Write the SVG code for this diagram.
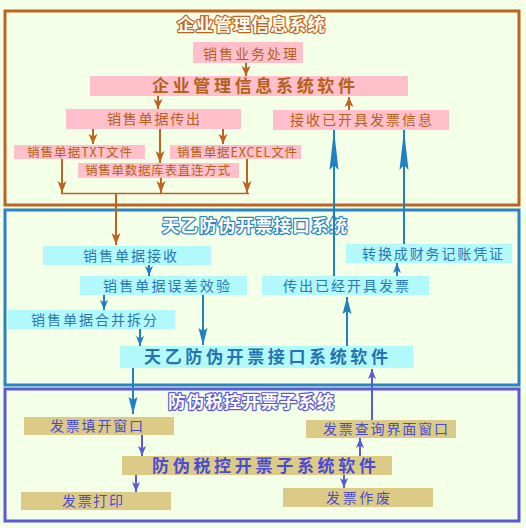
<svg xmlns="http://www.w3.org/2000/svg" width="526" height="528" viewBox="0 0 526 528">
<style>
text{font-family:"Noto Sans CJK SC","Noto Sans",sans-serif;text-anchor:middle;}
.t1{font-size:14px;fill:#b5601c;}
.t1s{font-size:12.5px;fill:#b5601c;}
.t1b{font-size:17px;font-weight:bold;fill:#b5601c;}
.t2{font-size:14px;fill:#2b78b6;}
.t2b{font-size:17px;font-weight:bold;fill:#2374b0;}
.t3{font-size:14px;fill:#4b4bd0;}
.t3b{font-size:17px;font-weight:bold;fill:#4b4bd0;}
.title{font-size:17.5px;font-weight:bold;fill:#fffdf4;stroke-width:2.4px;paint-order:stroke;stroke-linejoin:round;}
.n1{fill:#ffc0cb;}
.n2{fill:#b2f9fb;}
.n3{fill:#dccb86;}
.ab{stroke:#bf6420;stroke-width:2;fill:none;}
.abl{stroke:#2080c0;stroke-width:2;fill:none;}
.ap{stroke:#5a5ad6;stroke-width:2;fill:none;}
</style>
<defs>
<marker id="hb" viewBox="0 -5 10 10" refX="10" refY="0" markerWidth="10" markerHeight="10" markerUnits="userSpaceOnUse" orient="auto"><path d="M0,-4.5 L10,0 L0,4.5 L2.5,0 z" fill="#bf6420"/></marker>
<marker id="hbl" viewBox="0 -5 12 10" refX="12" refY="0" markerWidth="12" markerHeight="10" markerUnits="userSpaceOnUse" orient="auto"><path d="M0,-4.5 L12,0 L0,4.5 L3,0 z" fill="#bf6420"/></marker>
<marker id="hs" viewBox="0 -5 10 10" refX="10" refY="0" markerWidth="10" markerHeight="10" markerUnits="userSpaceOnUse" orient="auto"><path d="M0,-4 L10,0 L0,4 L2.5,0 z" fill="#2080c0"/></marker>
<marker id="hm" viewBox="0 -5 17 10" refX="17" refY="0" markerWidth="17" markerHeight="10" markerUnits="userSpaceOnUse" orient="auto"><path d="M0,-4.5 L17,0 L0,4.5 L3,0 z" fill="#2080c0"/></marker>
<marker id="hl" viewBox="0 -5 40 10" refX="40" refY="0" markerWidth="40" markerHeight="10" markerUnits="userSpaceOnUse" orient="auto"><path d="M0,-4.5 L40,0 L0,4.5 L5,0 z" fill="#2080c0"/></marker>
<marker id="hp" viewBox="0 -5 10 10" refX="10" refY="0" markerWidth="10" markerHeight="10" markerUnits="userSpaceOnUse" orient="auto"><path d="M0,-4 L10,0 L0,4 L2.5,0 z" fill="#5a5ad6"/></marker>
</defs>
<rect x="0" y="0" width="526" height="528" fill="#f3ffe6"/>

<g id="frames">
<rect x="5" y="11" width="514" height="194" fill="none" stroke="#bf6420" stroke-width="3"/>
<rect x="5" y="210" width="514" height="175" fill="none" stroke="#2a84c4" stroke-width="3"/>
<rect x="5" y="389" width="514" height="132" fill="none" stroke="#5a5ad6" stroke-width="3"/>
<text class="title" x="251" y="30.5" textLength="148" lengthAdjust="spacing" stroke="#bf6420">企业管理信息系统</text>
<text class="title" x="254.5" y="231.5" textLength="185" lengthAdjust="spacing" stroke="#2a84c4">天乙防伪开票接口系统</text>
<text class="title" x="251" y="408" textLength="166" lengthAdjust="spacing" stroke="#5a5ad6">防伪税控开票子系统</text>
</g>

<g id="connectors">
<line class="ab" x1="246" y1="63" x2="246" y2="76" marker-end="url(#hb)"/>
<line class="ab" x1="158" y1="96" x2="158" y2="109" marker-end="url(#hb)"/>
<line class="ab" x1="349" y1="110" x2="349" y2="97" marker-end="url(#hb)"/>
<line class="ab" x1="93" y1="129" x2="93" y2="144" marker-end="url(#hb)"/>
<line class="ab" x1="160" y1="129" x2="160" y2="163" marker-end="url(#hbl)"/>
<line class="ab" x1="223" y1="129" x2="223" y2="144" marker-end="url(#hb)"/>
<line class="ab" x1="62" y1="159" x2="62" y2="193" marker-end="url(#hbl)"/>
<line class="ab" x1="161" y1="178" x2="161" y2="193" marker-end="url(#hbl)"/>
<line class="ab" x1="247" y1="159" x2="247" y2="193" marker-end="url(#hbl)"/>
<line x1="61" y1="193.5" x2="249" y2="193.5" stroke="#bf6420" stroke-width="1.5"/>
<line class="ab" x1="116" y1="193" x2="116" y2="245" marker-end="url(#hbl)"/>

<line class="abl" x1="149" y1="265" x2="149" y2="276" marker-end="url(#hs)"/>
<line class="abl" x1="104" y1="295" x2="104" y2="310" marker-end="url(#hs)"/>
<line class="abl" x1="140" y1="329" x2="140" y2="346" marker-end="url(#hs)"/>
<line class="abl" x1="203" y1="295" x2="203" y2="345" marker-end="url(#hm)"/>
<line class="abl" x1="347" y1="346" x2="347" y2="297" marker-end="url(#hm)"/>
<line class="abl" x1="397" y1="276" x2="397" y2="263" marker-end="url(#hs)"/>
<line class="abl" x1="334" y1="276" x2="334" y2="130" marker-end="url(#hl)"/>
<line class="abl" x1="404" y1="244" x2="404" y2="130" marker-end="url(#hl)"/>
<line class="abl" x1="133" y1="368" x2="133" y2="414" marker-end="url(#hm)"/>

<line class="ap" x1="142" y1="435" x2="142" y2="456" marker-end="url(#hp)"/>
<line class="ap" x1="136" y1="475" x2="136" y2="492" marker-end="url(#hp)"/>
<line class="ap" x1="344" y1="475" x2="344" y2="488" marker-end="url(#hp)"/>
<line class="ap" x1="360" y1="456" x2="360" y2="438" marker-end="url(#hp)"/>
<line class="ap" x1="372" y1="420" x2="372" y2="369" marker-end="url(#hp)"/>
</g>

<g id="n-xsywcl"><rect class="n1" x="193" y="42" width="110" height="21"/><text class="t1" x="250" y="58.5" textLength="94" lengthAdjust="spacing">销售业务处理</text></g>
<g id="n-qyglrj"><rect class="n1" x="90" y="76" width="318" height="20"/><text class="t1b" x="253.5" y="92" textLength="203" lengthAdjust="spacing">企业管理信息系统软件</text></g>
<g id="n-xsdjcc"><rect class="n1" x="66" y="109" width="175" height="20"/><text class="t1" x="153.5" y="124" textLength="93" lengthAdjust="spacing">销售单据传出</text></g>
<g id="n-jsykjfpxx"><rect class="n1" x="273" y="110" width="176" height="20"/><text class="t1" x="361" y="125" textLength="142" lengthAdjust="spacing">接收已开具发票信息</text></g>
<g id="n-txt"><rect class="n1" x="14" y="145" width="131" height="14"/><text class="t1s" x="79.5" y="156.5" textLength="105" lengthAdjust="spacing">销售单据TXT文件</text></g>
<g id="n-excel"><rect class="n1" x="170" y="145" width="131" height="14"/><text class="t1s" x="237" y="156.5" textLength="120" lengthAdjust="spacing">销售单据EXCEL文件</text></g>
<g id="n-sjk"><rect class="n1" x="78" y="163" width="161" height="15"/><text class="t1s" x="157.5" y="175" textLength="145" lengthAdjust="spacing">销售单数据库表直连方式</text></g>

<g id="n-xsdjjs"><rect class="n2" x="43" y="246" width="168" height="19"/><text class="t2" x="130" y="260.5" textLength="94" lengthAdjust="spacing">销售单据接收</text></g>
<g id="n-wcxy"><rect class="n2" x="80" y="276" width="167" height="19"/><text class="t2" x="166.5" y="290.5" textLength="127" lengthAdjust="spacing">销售单据误差效验</text></g>
<g id="n-hbcf"><rect class="n2" x="8" y="310" width="167" height="19"/><text class="t2" x="94" y="324.5" textLength="126" lengthAdjust="spacing">销售单据合并拆分</text></g>
<g id="n-tyrj"><rect class="n2" x="120" y="346" width="293" height="22"/><text class="t2b" x="266" y="363" textLength="244" lengthAdjust="spacing">天乙防伪开票接口系统软件</text></g>
<g id="n-ccykj"><rect class="n2" x="262" y="276" width="167" height="19"/><text class="t2" x="346" y="290.5" textLength="126" lengthAdjust="spacing">传出已经开具发票</text></g>
<g id="n-zhcw"><rect class="n2" x="346" y="244" width="166" height="19"/><text class="t2" x="432.5" y="258.5" textLength="141" lengthAdjust="spacing">转换成财务记账凭证</text></g>

<g id="n-fptk"><rect class="n3" x="24" y="417" width="150" height="18"/><text class="t3" x="96.5" y="431" textLength="93" lengthAdjust="spacing">发票填开窗口</text></g>
<g id="n-fpcx"><rect class="n3" x="306" y="420" width="150" height="18"/><text class="t3" x="385.5" y="434" textLength="125" lengthAdjust="spacing">发票查询界面窗口</text></g>
<g id="n-fwrj"><rect class="n3" x="122" y="456" width="270" height="19"/><text class="t3b" x="264" y="471.5" textLength="224" lengthAdjust="spacing">防伪税控开票子系统软件</text></g>
<g id="n-fpdy"><rect class="n3" x="21" y="492" width="150" height="18"/><text class="t3" x="92.5" y="506" textLength="61" lengthAdjust="spacing">发票打印</text></g>
<g id="n-fpzf"><rect class="n3" x="283" y="488" width="150" height="19"/><text class="t3" x="358" y="502.5" textLength="64" lengthAdjust="spacing">发票作废</text></g>
</svg>
